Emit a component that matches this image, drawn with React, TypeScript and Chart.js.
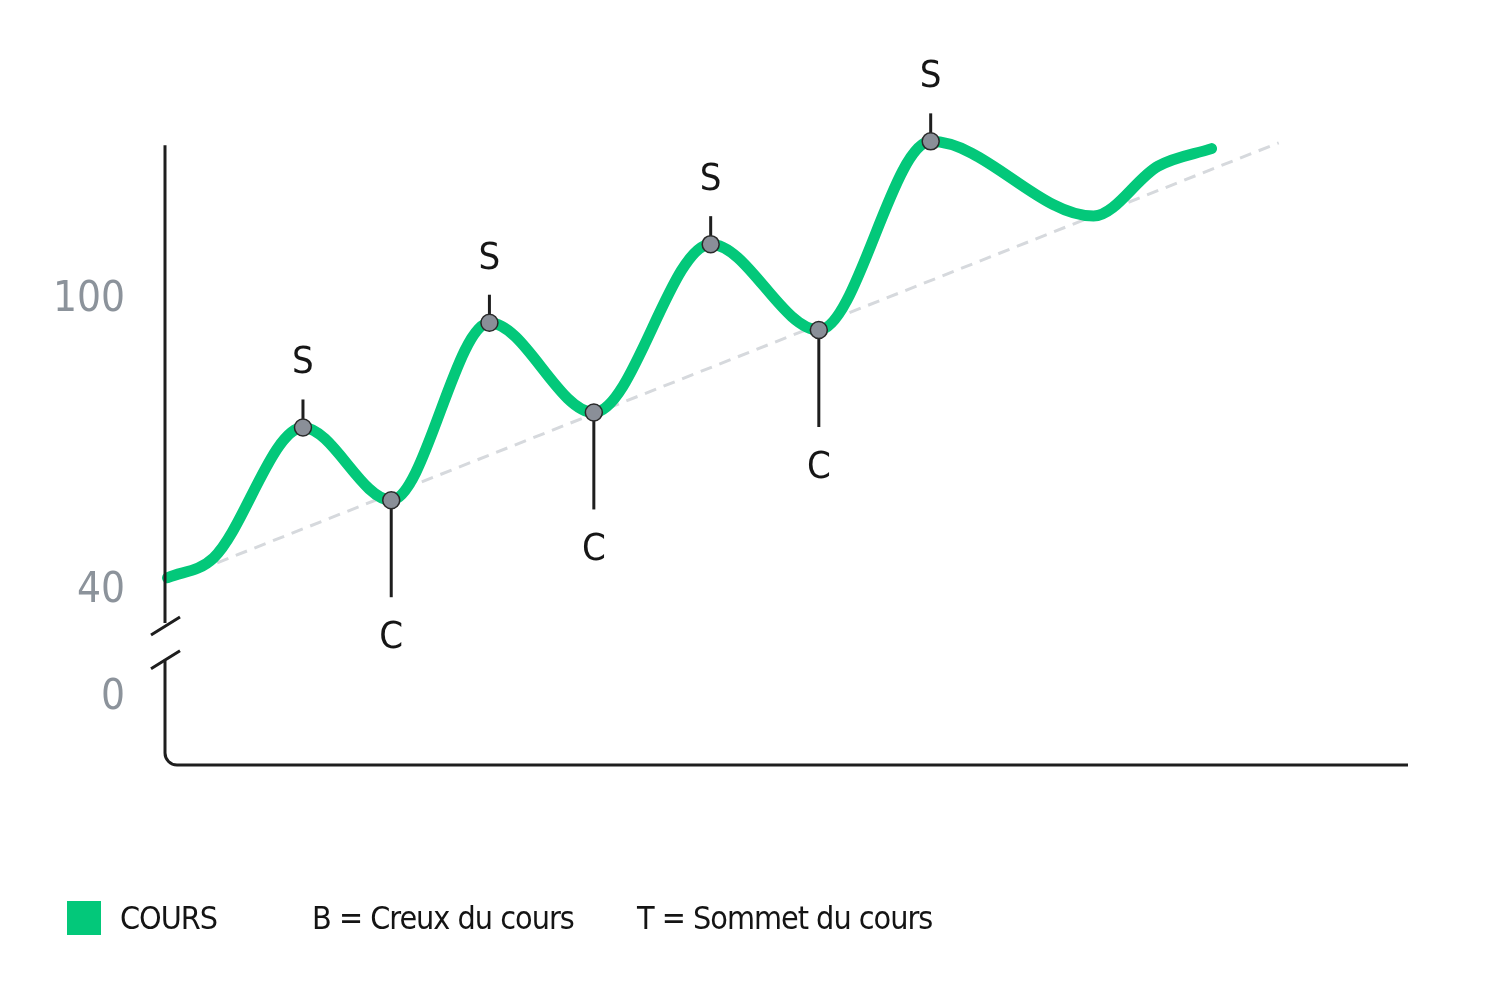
import React, { useEffect, useRef } from 'react';
import { Chart, registerables } from 'chart.js';

Chart.register(...registerables);

// ---- Data ----
const periods = [0.2, 3.9, 11.1, 18.2, 26.1, 34.5, 43.9, 52.6, 61.6, 74.7, 79.9, 84.2];
const cours = [42.1, 46.2, 73.1, 58.1, 94.7, 76.2, 110.9, 93.2, 132.1, 116.7, 127.0, 130.6];
const markers = ['', '', 'S', 'C', 'S', 'C', 'S', 'C', 'S', '', '', ''];
const trendX = [4.2, 89.6];
const trendY = [45.2, 131.8];
const yTicks = [40, 100];
const zeroTickValue = 17.9;
const zeroTickLabel = '0';
const axisTopValue = 131.3;
const breakTopValue = 32.8;
const breakBottomValue = 25.0;
const legendItems = ['COURS', 'B = Creux du cours', 'T = Sommet du cours'];

const X_MIN = 0;
const X_MAX = 100;
const Y_MIN = 3.5;
const Y_MAX = 153;

const GREEN = '#03c87a';
const FONT = '"Liberation Sans Narrow", "DejaVu Sans Condensed", Roboto, sans-serif';

const markerPlugin = {
  id: 'markerPlugin',
  beforeDatasetsDraw(chart: any) {
    const ctx = chart.ctx;
    const meta = chart.getDatasetMeta(0);
    ctx.save();
    ctx.strokeStyle = '#1e1e1e';
    ctx.lineWidth = 3;
    meta.data.forEach((pt: any, i: number) => {
      const m = markers[i];
      if (!m) return;
      ctx.beginPath();
      ctx.moveTo(pt.x, pt.y);
      ctx.lineTo(pt.x, m === 'S' ? pt.y - 28 : pt.y + 97);
      ctx.stroke();
    });
    ctx.restore();
  },
  afterDatasetsDraw(chart: any) {
    const ctx = chart.ctx;
    const meta = chart.getDatasetMeta(0);
    ctx.save();
    ctx.fillStyle = '#161616';
    ctx.font = `38px ${FONT}`;
    ctx.textAlign = 'center';
    ctx.textBaseline = 'middle';
    meta.data.forEach((pt: any, i: number) => {
      const m = markers[i];
      if (!m) return;
      ctx.fillText(m, pt.x, m === 'S' ? pt.y - 64 : pt.y + 138);
    });
    ctx.restore();
  },
};

const axisPlugin = {
  id: 'axisPlugin',
  afterDraw(chart: any) {
    const ctx = chart.ctx;
    const y = chart.scales.y;
    const area = chart.chartArea;
    const x0 = area.left;
    const top = y.getPixelForValue(axisTopValue);
    const bTop = y.getPixelForValue(breakTopValue);
    const bBot = y.getPixelForValue(breakBottomValue);
    const bottom = area.bottom;
    const r = 12;
    ctx.save();
    ctx.strokeStyle = '#1e1e1e';
    ctx.lineWidth = 3;
    ctx.lineCap = 'butt';
    ctx.beginPath();
    ctx.moveTo(x0, top);
    ctx.lineTo(x0, bTop);
    ctx.stroke();
    // break marks
    ctx.beginPath();
    ctx.moveTo(x0 - 14, bTop + 12);
    ctx.lineTo(x0 + 15, bTop - 6);
    ctx.moveTo(x0 - 14, bBot + 8);
    ctx.lineTo(x0 + 15, bBot - 10);
    ctx.stroke();
    ctx.beginPath();
    ctx.moveTo(x0, bBot);
    ctx.lineTo(x0, bottom - r);
    ctx.arcTo(x0, bottom, x0 + r, bottom, r);
    ctx.lineTo(area.right, bottom);
    ctx.stroke();
    ctx.restore();
  },
};

export default function App() {
  const canvasRef = useRef<HTMLCanvasElement | null>(null);

  useEffect(() => {
    if (!canvasRef.current) return;
    const chart = new Chart(canvasRef.current, {
      type: 'line',
      data: {
        datasets: [
          {
            label: 'COURS',
            data: periods.map((p, i) => ({ x: p, y: cours[i] })),
            borderColor: GREEN,
            borderWidth: 11,
            borderCapStyle: 'round',
            borderJoinStyle: 'round',
            cubicInterpolationMode: 'monotone',
            fill: false,
            pointRadius: (ctx: any) => (markers[ctx.dataIndex] ? 8.5 : 0),
            pointHoverRadius: 0,
            pointBackgroundColor: '#8a8f98',
            pointBorderColor: '#2a2a2a',
            pointBorderWidth: 1.5,
            clip: false,
          },
          {
            label: 'Tendance',
            data: trendX.map((p, i) => ({ x: p, y: trendY[i] })),
            borderColor: '#d6d9dd',
            borderWidth: 3,
            borderDash: [12, 8],
            pointRadius: 0,
            fill: false,
            clip: false,
          },
        ],
      },
      options: {
        animation: false,
        responsive: false,
        devicePixelRatio: 1,
        layout: { padding: { top: 40, bottom: 216, left: 0, right: 89 } },
        plugins: { legend: { display: false }, tooltip: { enabled: false } },
        scales: {
          x: { type: 'linear', min: X_MIN, max: X_MAX, display: false },
          y: {
            type: 'linear',
            min: Y_MIN,
            max: Y_MAX,
            border: { display: false },
            grid: { display: false, drawTicks: false },
            afterFit: (scale: any) => {
              scale.width = 165;
              scale.paddingTop = 0;
              scale.paddingBottom = 0;
            },
            afterBuildTicks: (scale: any) => {
              scale.ticks = [zeroTickValue, ...yTicks].map((v) => ({ value: v }));
            },
            ticks: {
              padding: 40,
              labelOffset: 3,
              color: '#8c939b',
              font: { family: FONT, size: 42 },
              callback: (value: any) => (value === zeroTickValue ? zeroTickLabel : String(value)),
            },
          },
        },
      },
      plugins: [markerPlugin, axisPlugin],
    } as any);
    return () => chart.destroy();
  }, []);

  const textStyle: React.CSSProperties = {
    position: 'absolute',
    top: 898,
    height: 40,
    lineHeight: '40px',
    fontFamily: FONT,
    fontSize: 32,
    letterSpacing: '-1px',
    color: '#141414',
    whiteSpace: 'nowrap',
  };

  return (
    <div style={{ position: 'fixed', left: 0, top: 0, width: 1497, height: 981, background: '#fff' }}>
      <canvas ref={canvasRef} width={1497} height={981} style={{ position: 'absolute', left: 0, top: 0 }} />
      <div style={{ position: 'absolute', left: 67, top: 901, width: 34, height: 34, background: GREEN }} />
      <div style={{ ...textStyle, left: 120 }}>{legendItems[0]}</div>
      <div style={{ ...textStyle, left: 312 }}>{legendItems[1]}</div>
      <div style={{ ...textStyle, left: 637 }}>{legendItems[2]}</div>
    </div>
  );
}
